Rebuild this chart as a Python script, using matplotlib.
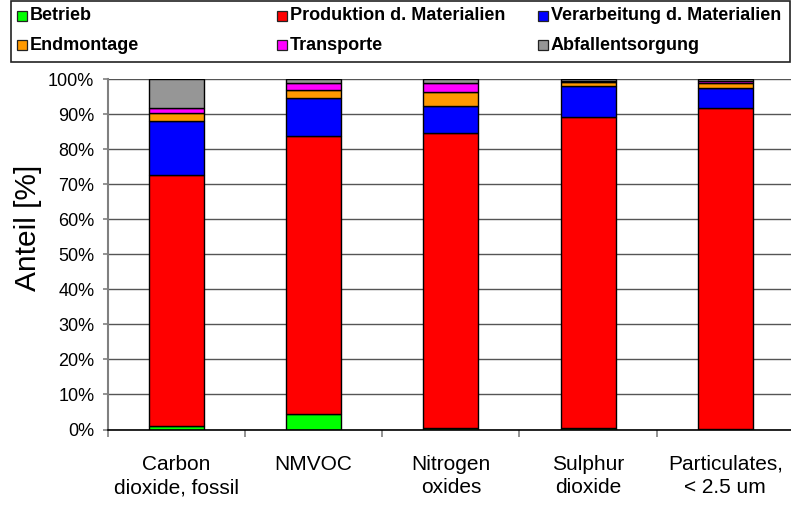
import numpy as np
import matplotlib
matplotlib.use('Agg')
import matplotlib.pyplot as plt
from matplotlib.patches import Rectangle

plt.rcParams['font.family'] = ['Liberation Sans', 'DejaVu Sans']

CATEGORIES = ['Carbon\ndioxide, fossil', 'NMVOC', 'Nitrogen\noxides',
              'Sulphur\ndioxide', 'Particulates,\n< 2.5 um']

# share of each life-cycle phase in %
betrieb = [0.9, 4.5, 0.3, 0.3, 0.1]
produktion = [71.8, 79.1, 84.3, 89.0, 91.6]
verarbeitung = [15.2, 11.1, 7.8, 8.8, 5.7]
endmontage = [2.3, 2.2, 4.0, 1.0, 1.5]
transporte = [1.6, 2.0, 2.5, 0.4, 0.6]
abfall = [8.2, 1.1, 1.1, 0.5, 0.5]

SERIES = [
    ('Betrieb', betrieb, '#00FF00'),
    ('Produktion d. Materialien', produktion, '#FF0000'),
    ('Verarbeitung d. Materialien', verarbeitung, '#0000FF'),
    ('Endmontage', endmontage, '#FF9900'),
    ('Transporte', transporte, '#FF00FF'),
    ('Abfallentsorgung', abfall, '#969696'),
]

W, H = 791, 508
fig = plt.figure(figsize=(W / 100, H / 100), dpi=100)


def fx(px):
    return px / W


def fy(py):
    return 1 - py / H


ax = fig.add_axes([fx(107.7), fy(429.5), fx(794) - fx(107.7), fy(79) - fy(429.5)])

x = np.arange(len(CATEGORIES))
bottom = np.zeros(len(CATEGORIES))
for name, vals, color in SERIES:
    ax.bar(x, vals, width=0.4, bottom=bottom, color=color, edgecolor='black',
           linewidth=1.0, zorder=3, label=name)
    bottom += np.array(vals)

ax.set_xlim(-0.5, len(CATEGORIES) - 0.5)
ax.set_ylim(0, 100)
ax.set_yticks(np.arange(0, 101, 10))
ax.set_yticklabels([f'{v}%' for v in range(0, 101, 10)])
ax.yaxis.grid(True, color='#555555', linewidth=1.0, zorder=0)

ax.set_xticks(x)
ax.set_xticklabels(CATEGORIES, fontsize=15, linespacing=1.3)
ax.set_xticks(np.arange(-0.5, len(CATEGORIES), 1), minor=True)
ax.tick_params(axis='x', which='major', length=0, pad=18)
ax.tick_params(axis='x', which='minor', length=5, color='#808080', width=1.2)
ax.tick_params(axis='y', length=3.6, color='#808080', width=1.2, labelsize=13, pad=6)

for side in ('top', 'right'):
    ax.spines[side].set_visible(False)
ax.spines['left'].set_color('#808080')
ax.spines['left'].set_linewidth(1.5)
ax.spines['bottom'].set_color('black')
ax.spines['bottom'].set_linewidth(1.2)
ax.spines['bottom'].set_zorder(4)

ax.set_ylabel('Anteil [%]', fontsize=21.5)
ax.yaxis.set_label_coords(-0.096, 0.575)

# legend box across the top, three columns
fig.add_artist(Rectangle((fx(11), fy(62)), fx(790) - fx(11), fy(1) - fy(62),
                         transform=fig.transFigure, facecolor='white',
                         edgecolor='#222222', linewidth=1.2))
col_x = [17, 277, 538]
row_y = [16, 45]
for i, (name, vals, color) in enumerate(SERIES):
    cx = col_x[i % 3]
    cy = row_y[i // 3]
    fig.add_artist(Rectangle((fx(cx), fy(cy + 5)), fx(10), 10 / H,
                             transform=fig.transFigure, facecolor=color,
                             edgecolor='#222222', linewidth=0.9))
    fig.text(fx(cx + 13), fy(cy), name, fontsize=13, fontweight='bold',
             ha='left', va='center')

fig.savefig('out.png', dpi=100)
